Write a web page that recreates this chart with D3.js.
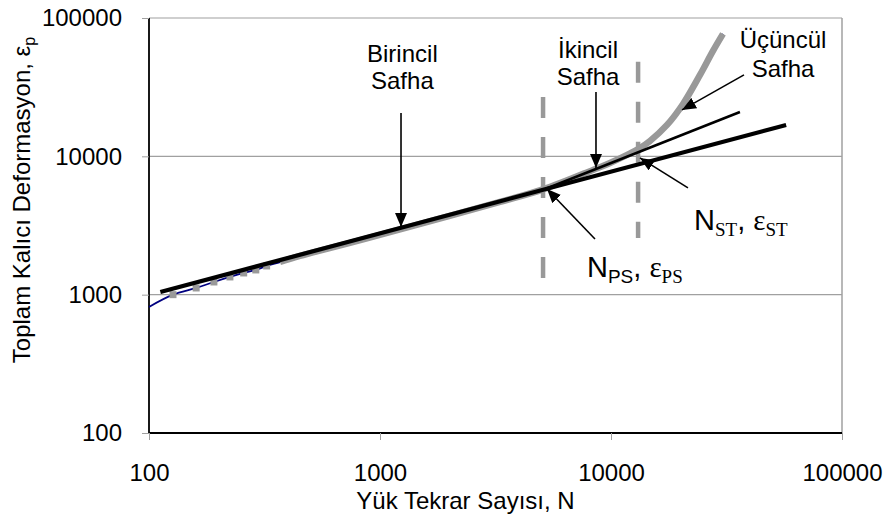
<!DOCTYPE html>
<html lang="en">

<head>
    <meta charset="UTF-8">
    <style>
        body { margin: 0; background: #fff; }
        text { font-family: "Liberation Sans", Arial, sans-serif; fill: #000; }
    </style>
</head>

<body>
    <script src="https://d3js.org/d3.v7.min.js"></script>
    <script>
        // tick values (both axes are log)
        var xTicks = [100, 1000, 10000, 100000]
        var yTicks = [100, 1000, 10000, 100000]

        // measured permanent deformation (navy line + grey markers / grey band)
        var testN = [100, 127, 160, 191, 224, 257, 290, 323, 369, 450, 741, 1221, 3307, 5077, 8357, 9900, 13350, 14750, 17480, 20500, 24280, 27640, 30530]
        var testE = [815, 1000, 1118, 1235, 1343, 1435, 1509, 1613, 1722, 1905, 2366, 2960, 4680, 5765, 7975, 8960, 11500, 12925, 16870, 23920, 38780, 57830, 76740]
        var markerFrom = 1, markerTo = 8   // points drawn as separate square markers

        // fitted straight lines
        var primaryN = [112, 57300]
        var primaryE = [1045, 16870]
        var secondaryN = [5200, 36150]
        var secondaryE = [5800, 20940]

        // phase boundaries (vertical dashed)
        var boundN = [5080, 13100]
        var boundLow = [1320, 2570]
        var boundHigh = [26800, 48200]

        // arrows: [fromN, fromE, toN, toE]
        var arrows = [
            [1233, 20600, 1233, 3087],
            [8610, 29220, 8610, 8240],
            [37650, 38780, 20300, 21650],
            [21540, 5909, 13350, 9737],
            [8524, 2527, 5284, 5811]
        ]

        var svgWidth = 888, svgHeight = 520
        var margin = { left: 149, top: 18, right: 46, bottom: 87 }

        var svg = d3.select('body').append('svg')
            .attr('width', svgWidth)
            .attr('height', svgHeight)

        var xScale = d3.scaleLog()
            .domain([100, 100000])
            .range([margin.left, svgWidth - margin.right])
        var yScale = d3.scaleLog()
            .domain([100, 100000])
            .range([svgHeight - margin.bottom, margin.top])

        var x0 = xScale.range()[0], x1 = xScale.range()[1]
        var yTop = yScale.range()[1], yBot = yScale.range()[0]

        // grid lines + grey frame
        svg.append('g').selectAll('line')
            .data(yTicks.slice(1))
            .enter().append('line')
            .attr('x1', x0).attr('x2', x1)
            .attr('y1', d => yScale(d)).attr('y2', d => yScale(d))
            .attr('stroke', '#a0a0a0').attr('stroke-width', 1.2)
        svg.append('line')
            .attr('x1', x1).attr('x2', x1).attr('y1', yTop).attr('y2', yBot)
            .attr('stroke', '#a0a0a0').attr('stroke-width', 1.5)

        // axes
        var fmt = d3.format('d')
        var yAxis = svg.append('g')
            .attr('transform', 'translate(' + x0 + ',0)')
            .call(d3.axisLeft(yScale).tickValues(yTicks).tickFormat(fmt).tickSize(7).tickPadding(20))
        var xAxis = svg.append('g')
            .attr('transform', 'translate(0,' + yBot + ')')
            .call(d3.axisBottom(xScale).tickValues(xTicks).tickFormat(fmt).tickSize(7).tickPadding(24))
        svg.selectAll('.domain').attr('stroke', '#000').attr('stroke-width', 1.8)
        svg.selectAll('.tick line').attr('stroke', '#a0a0a0')
        svg.selectAll('.tick text').attr('font-size', 24).attr('font-family', '"Liberation Sans", Arial, sans-serif').attr('fill', '#000')
        yAxis.select('.domain').attr('d', 'M0,' + yTop + 'V' + yBot)
        xAxis.select('.domain').attr('d', 'M' + x0 + ',0H' + x1)

        // dashed phase boundaries
        svg.append('g').selectAll('line')
            .data(boundN)
            .enter().append('line')
            .attr('x1', d => xScale(d)).attr('x2', d => xScale(d))
            .attr('y1', (d, i) => yScale(boundHigh[i]))
            .attr('y2', (d, i) => yScale(boundLow[i]))
            .attr('stroke', '#999').attr('stroke-width', 4.5)
            .attr('stroke-dasharray', '21,19')

        // measured curve
        var pts = testN.map((n, i) => [xScale(n), yScale(testE[i])])
        var line = d3.line().curve(d3.curveCatmullRom.alpha(0.5))
        svg.append('path')
            .attr('d', line(pts))
            .attr('fill', 'none').attr('stroke', '#000080').attr('stroke-width', 1.8)
        svg.append('path')
            .attr('d', line(pts.slice(markerTo)))
            .attr('fill', 'none').attr('stroke', '#999').attr('stroke-width', 6.5)
            .attr('stroke-linecap', 'butt')
        svg.append('g').selectAll('rect')
            .data(pts.slice(markerFrom, markerTo))
            .enter().append('rect')
            .attr('x', d => d[0] - 3.5).attr('y', d => d[1] - 3.5)
            .attr('width', 7).attr('height', 7)
            .attr('fill', '#999')

        // fitted lines
        var fit = d3.line()
        svg.append('path')
            .attr('d', fit(primaryN.map((n, i) => [xScale(n), yScale(primaryE[i])])))
            .attr('stroke', '#000').attr('stroke-width', 4.2).attr('fill', 'none')
        svg.append('path')
            .attr('d', fit(secondaryN.map((n, i) => [xScale(n), yScale(secondaryE[i])])))
            .attr('stroke', '#000').attr('stroke-width', 2.6).attr('fill', 'none')

        // arrows
        svg.append('defs').append('marker')
            .attr('id', 'head')
            .attr('viewBox', '0 0 14 12')
            .attr('refX', 14).attr('refY', 6)
            .attr('markerWidth', 14).attr('markerHeight', 12)
            .attr('markerUnits', 'userSpaceOnUse')
            .attr('orient', 'auto')
            .append('path').attr('d', 'M0,0L14,6L0,12Z').attr('fill', '#000')
        svg.append('g').selectAll('line')
            .data(arrows)
            .enter().append('line')
            .attr('x1', d => xScale(d[0])).attr('y1', d => yScale(d[1]))
            .attr('x2', d => xScale(d[2])).attr('y2', d => yScale(d[3]))
            .attr('stroke', '#000').attr('stroke-width', 1.6)
            .attr('marker-end', 'url(#head)')

        // phase labels
        var phaseText = [
            ['Birincil', 1250, 48200], ['Safha', 1250, 30700],
            ['İkincil', 7950, 51460], ['Safha', 7950, 32810],
            ['Üçüncül', 55550, 60790], ['Safha', 55550, 37500]
        ]
        svg.append('g').selectAll('text')
            .data(phaseText)
            .enter().append('text')
            .attr('x', d => xScale(d[1])).attr('y', d => yScale(d[2]))
            .attr('text-anchor', 'middle').attr('font-size', 24)
            .text(d => d[0])

        // N, epsilon labels
        function symLabel(n, e, sub) {
            var t = svg.append('text')
                .attr('x', xScale(n)).attr('y', yScale(e))
                .attr('font-size', 29)
            t.append('tspan').text('N')
            t.append('tspan').attr('dy', 6).attr('font-size', 19)
                .attr('font-family', sub === 'ST' ? '"Liberation Serif", serif' : null).text(sub)
            t.append('tspan').attr('dy', -6).text(', ')
            t.append('tspan').attr('font-family', '"Liberation Serif", serif').text('ε')
            t.append('tspan').attr('dy', 6).attr('font-size', 19)
                .attr('font-family', '"Liberation Serif", serif').text(sub)
        }
        symLabel(22870, 2937, 'ST')
        symLabel(7870, 1343, 'PS')

        // axis titles
        svg.append('text')
            .attr('x', (x0 + x1) / 2 - 30).attr('y', 509)
            .attr('text-anchor', 'middle').attr('font-size', 24)
            .text('Yük Tekrar Sayısı, N')
        var yt = svg.append('text')
            .attr('transform', 'translate(30,' + 200 + ') rotate(-90)')
            .attr('text-anchor', 'middle').attr('font-size', 24)
        yt.append('tspan').text('Toplam Kalıcı Deformasyon, ε')
        yt.append('tspan').attr('dy', 5).attr('font-size', 16).text('p')

    </script>
</body>

</html>
